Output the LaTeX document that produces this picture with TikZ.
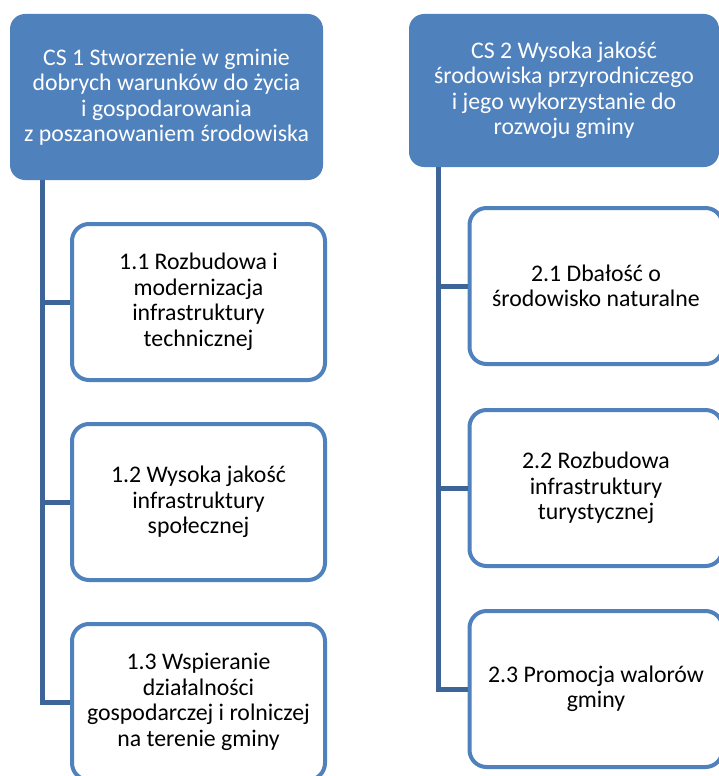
\documentclass[tikz,border=0pt]{standalone}
\usepackage{fontspec}
\setmainfont{Carlito}
\usepackage{xcolor}

\definecolor{officeblue}{RGB}{79,129,189}
\definecolor{linkblue}{RGB}{61,101,152}

\tikzset{
	goal/.style={fill=officeblue, rounded corners=15pt, text=white, align=center,
		font=\fontsize{23.8}{25.5}\selectfont, inner sep=0pt},
	task/.style={draw=officeblue, line width=4pt, fill=white, rounded corners=17pt,
		align=center, font=\fontsize{23.8}{25.5}\selectfont, inner sep=0pt,
		minimum width=253pt, minimum height=156pt},
	link/.style={draw=linkblue, line width=5pt}
}

\begin{document}
\begin{tikzpicture}[x=1pt, y=-1pt]
		\useasboundingbox (0, 0) rectangle (718, 776);
		% main goals
		\node[goal, minimum width=313pt, minimum height=166pt] (cs1) at (166.5, 97)
			{CS 1 Stworzenie w gminie\\dobrych warunków do życia\\i gospodarowania\\z poszanowaniem środowiska};
		\node[goal, minimum width=310pt, minimum height=153pt] (cs2) at (564, 90.5)
			{CS 2 Wysoka jakość\\środowiska przyrodniczego\\i jego wykorzystanie do\\rozwoju gminy};
		% left column
		\node[task] (c11) at (198.5, 302) {1.1 Rozbudowa i\\modernizacja\\infrastruktury\\technicznej};
		\node[task] (c12) at (198.5, 502) {1.2 Wysoka jakość\\infrastruktury\\społecznej};
		\node[task] (c13) at (198.5, 702) {1.3 Wspieranie\\działalności\\gospodarczej i rolniczej\\na terenie gminy};
		% right column
		\node[task] (c21) at (596, 286) {2.1 Dbałość o\\środowisko naturalne};
		\node[task] (c22) at (596, 488) {2.2 Rozbudowa\\infrastruktury\\turystycznej};
		\node[task] (c23) at (596, 689) {2.3 Promocja walorów\\gminy};
		% connectors
		\coordinate (s1) at (42, 180);
		\coordinate (s2) at (438, 167);
		\draw[link] (s1) |- (c13.west);
		\foreach \c in {c11, c12}
			\draw[link] (s1 |- \c.west) -- (\c.west);
		\draw[link] (s2) |- (c23.west);
		\foreach \c in {c21, c22}
			\draw[link] (s2 |- \c.west) -- (\c.west);
	\end{tikzpicture}
\end{document}
